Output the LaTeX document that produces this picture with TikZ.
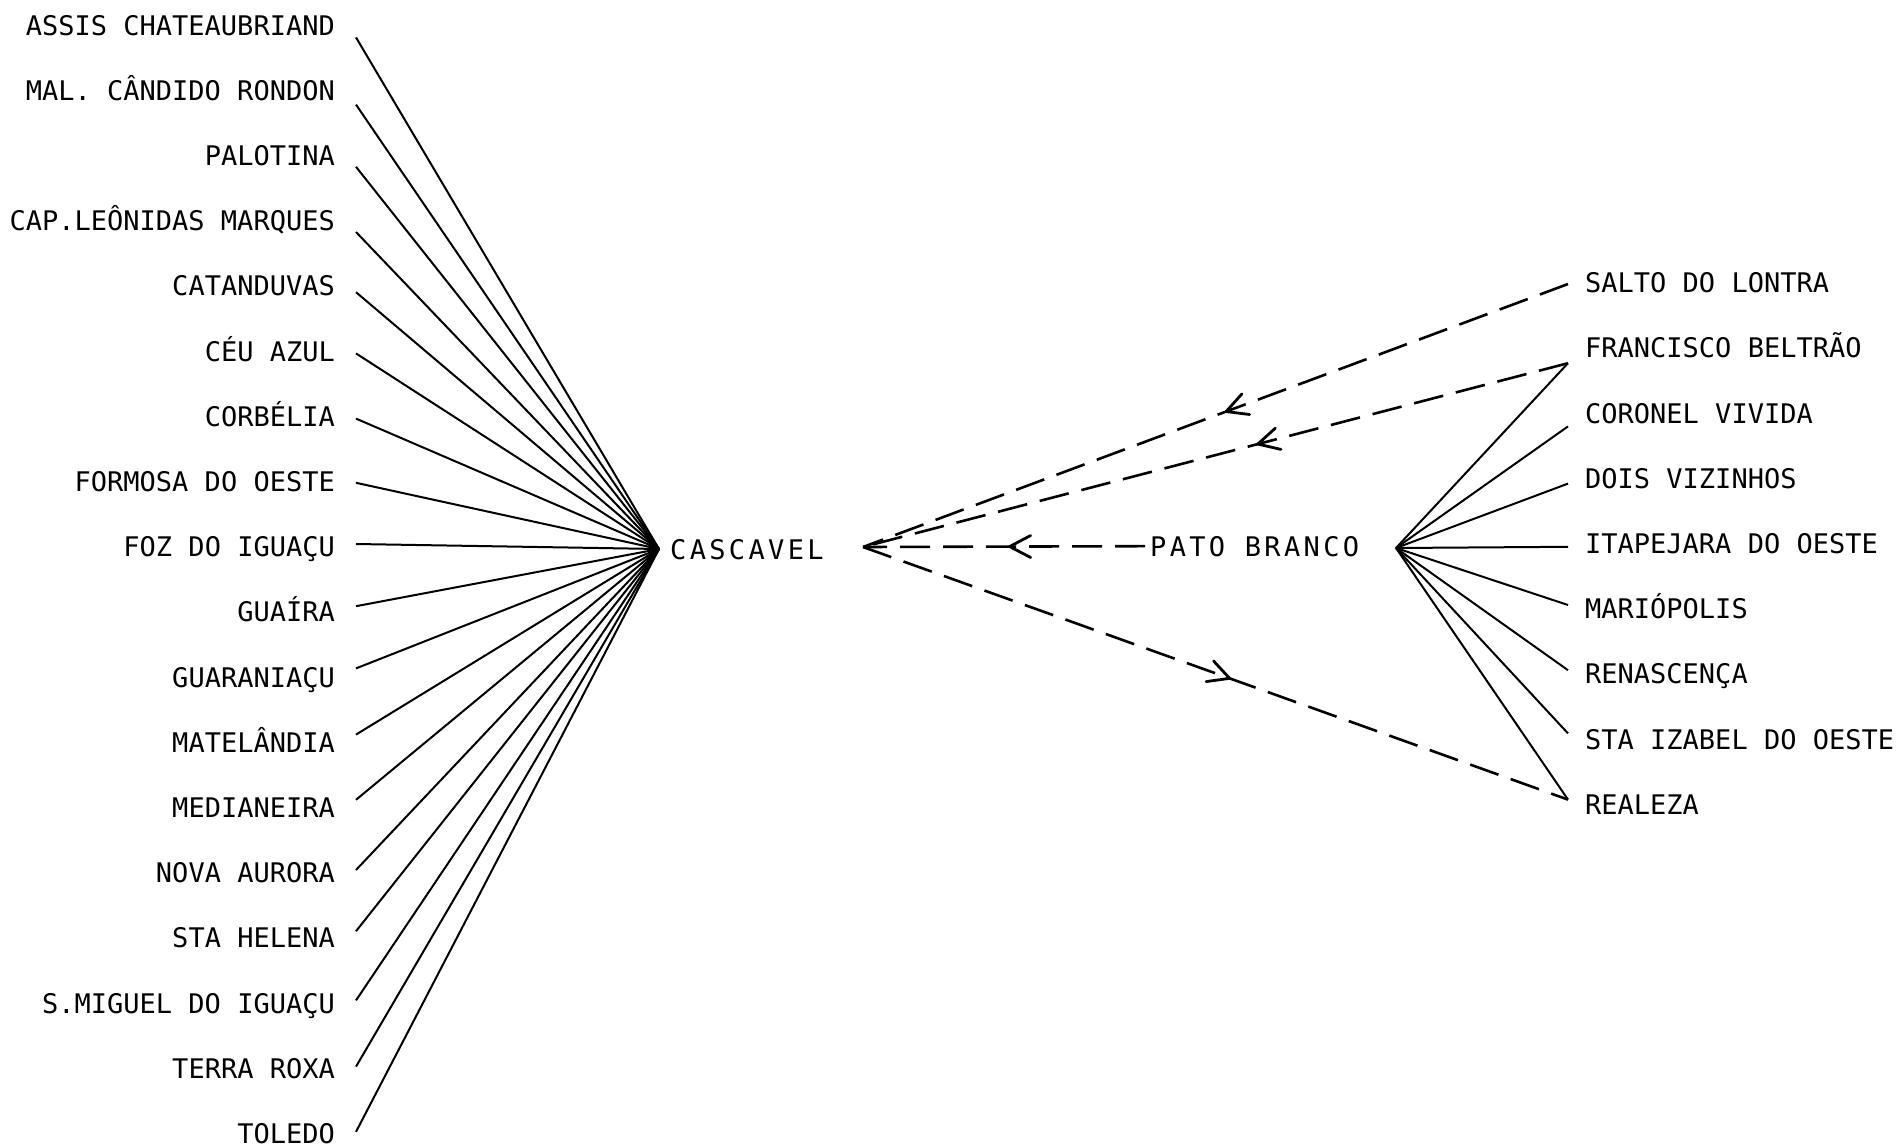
\documentclass[tikz,border=0pt]{standalone}
\usepackage{fontspec}
\newfontfamily\labfont{DejaVu Sans Mono}
\newfontfamily\hubfont{DejaVu Sans Mono}[LetterSpace=12.4]
\usetikzlibrary{decorations.markings}
\tikzset{
  lab/.style={font=\labfont\fontsize{27}{30}\selectfont, inner sep=0pt},
  hublab/.style={font=\hubfont\fontsize{27}{30}\selectfont, inner sep=0pt},
  link/.style={line width=2pt},
  flow/.style={line width=2.6pt, dash pattern=on 30pt off 13pt},
  midarrow/.style={postaction={decorate}, decoration={markings,
      mark=at position #1 with {\draw[solid, line width=2.8pt, line cap=round, line join=round]
        (-21pt,11pt) -- (0pt,0pt) -- (-21pt,-11pt);}}}
}
\begin{document}
\begin{tikzpicture}[x=1pt,y=-1pt]
\useasboundingbox (0,0) rectangle (1896,1148);
% hubs
\node[hublab, anchor=base west] (cascavel) at (670,559.4) {CASCAVEL};
\node[hublab, anchor=base west] (pato) at (1150,556) {PATO BRANCO};
\coordinate (cas) at (659,549);
\coordinate (pbh) at (1396,548);
\coordinate (tip) at (863,547);
% left labels
\foreach \i/\t/\s in {
  0/ASSIS CHATEAUBRIAND/-2.3,
  1/MAL. CÂNDIDO RONDON/-4.3,
  2/PALOTINA/-1.3,
  3/CAP.LEÔNIDAS MARQUES/-1.3,
  4/CATANDUVAS/3.7,
  5/CÉU AZUL/7.7,
  6/CORBÉLIA/7.7,
  7/FORMOSA DO OESTE/8.7,
  8/FOZ DO IGUAÇU/12.7,
  9/GUAÍRA/15.7,
  10/GUARANIAÇU/18.7,
  11/MATELÂNDIA/17.7,
  12/MEDIANEIRA/17.7,
  13/NOVA AURORA/12.7,
  14/STA HELENA/16.7,
  15/S.MIGUEL DO IGUAÇU/12.7,
  16/TERRA ROXA/11.7,
  17/TOLEDO/11.7}{
  \node[lab, anchor=base east] (L\i) at (335,{25.4+65.2*\i+9.7}) {\t};
  \draw[link] ([xshift=21pt,yshift=\s pt]L\i.base east) -- (cas);
}
% right labels
\foreach \j/\t/\s in {
  0/SALTO DO LONTRA/8.7,
  1/FRANCISCO BELTRÃO/-5.3,
  2/CORONEL VIVIDA/-3.3,
  3/DOIS VIZINHOS/4.7,
  4/ITAPEJARA DO OESTE/6.7,
  5/MARIÓPOLIS/13.7,
  6/RENASCENÇA/13.7,
  7/STA IZABEL DO OESTE/15.7,
  8/REALEZA/14.7}{
  \node[lab, anchor=base west] (R\j) at (1585,{283+65.2*\j+9.7}) {\t};
  \coordinate (E\j) at ([xshift=-17pt,yshift=\s pt]R\j.base west);
}
\foreach \j in {1,...,8}{
  \draw[link] (pbh) -- (E\j);
}
% dashed flows
\draw[flow, midarrow=0.485] (E0) -- (tip);
\draw[flow, midarrow=0.44] (E1) -- (tip);
\draw[flow, midarrow=0.48] ([xshift=-5pt]pato.west) -- (tip);
\draw[flow, midarrow=0.52] (tip) -- (E8);
\end{tikzpicture}
\end{document}
